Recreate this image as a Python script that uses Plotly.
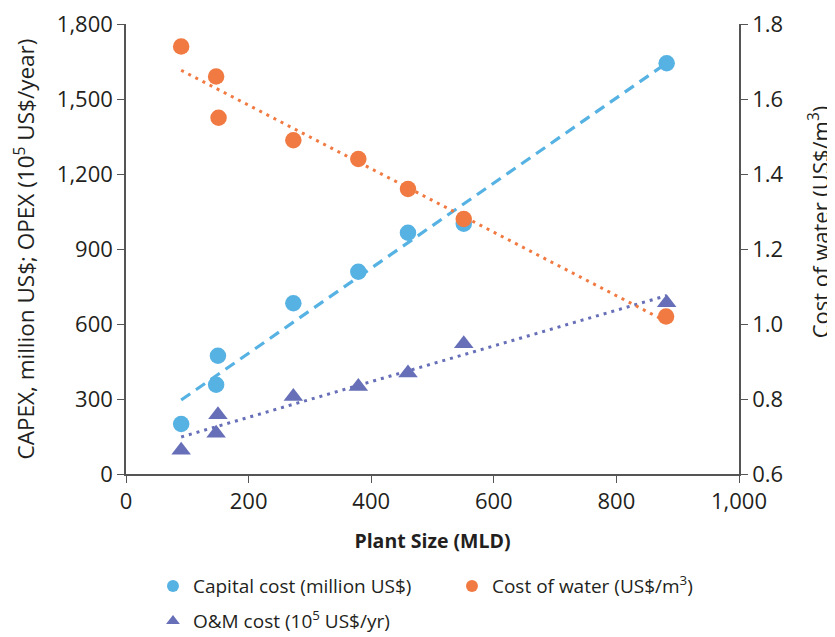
import numpy as np
import plotly.graph_objects as go

# Data
cap_x = [90, 147, 150, 273, 379, 460, 551, 882]
cap_y = [200, 357, 473, 683, 809, 965, 1001, 1643]
water_x = [90, 147, 151, 273, 379, 460, 551, 881]
water_y = [1.74, 1.66, 1.55, 1.49, 1.44, 1.36, 1.28, 1.02]
om_x = [90, 147, 150, 273, 379, 460, 551, 882]
om_y = [95, 163, 237, 310, 350, 404, 521, 685]

x_ticks = [0, 200, 400, 600, 800, 1000]
y_ticks = [0, 300, 600, 900, 1200, 1500, 1800]
y2_ticks = [0.6, 0.8, 1.0, 1.2, 1.4, 1.6, 1.8]

BLUE = "#56B2E3"
ORANGE = "#F07A41"
PURPLE = "#666FB7"
TXT = "#231F20"
FONT = "Open Sans"

def trend(xs, ys):
    m, b = np.polyfit(xs, ys, 1)
    xe = np.array([min(xs), max(xs)])
    return xe, m * xe + b

fig = go.Figure()

tx, ty = trend(cap_x, cap_y)
fig.add_trace(go.Scatter(x=tx, y=ty, mode="lines", showlegend=False, hoverinfo="skip",
                         line=dict(color=BLUE, width=3.2, dash="11px,7px")))
tx, ty = trend(om_x, om_y)
fig.add_trace(go.Scatter(x=tx, y=ty, mode="lines", showlegend=False, hoverinfo="skip",
                         line=dict(color=PURPLE, width=3, dash="3px,5px")))
tx, ty = trend(water_x, water_y)
fig.add_trace(go.Scatter(x=tx, y=ty, mode="lines", showlegend=False, hoverinfo="skip", yaxis="y2",
                         line=dict(color=ORANGE, width=3, dash="3px,5px")))

fig.add_trace(go.Scatter(x=cap_x, y=cap_y, mode="markers", name="Capital cost (million US$)",
                         legend="legend", marker=dict(color=BLUE, size=16.5, symbol="circle")))
fig.add_trace(go.Scatter(x=water_x, y=water_y, mode="markers", name="Cost of water (US$/m<sup>3</sup>)",
                         legend="legend", yaxis="y2", marker=dict(color=ORANGE, size=16.5, symbol="circle")))
fig.add_trace(go.Scatter(x=om_x, y=om_y, mode="markers", name="O&M cost (10<sup>5</sup> US$/yr)",
                         legend="legend2", marker=dict(color=PURPLE, size=17, symbol="triangle-up")))

axis_common = dict(showgrid=False, zeroline=False, showline=True, linecolor="#555555", linewidth=1.5,
                   ticks="outside", ticklen=7, tickcolor="#555555", tickwidth=1.2, automargin=False,
                   ticklabeloverflow="allow",
                   tickfont=dict(family=FONT, size=22, color=TXT))

legend_common = dict(orientation="h", xanchor="left", yanchor="middle", x=0.044,
                     font=dict(family=FONT, size=19, color=TXT), itemsizing="constant",
                     bgcolor="rgba(0,0,0,0)")

fig.update_layout(
    width=835, height=637,
    margin=dict(l=118, r=104, t=16, b=171, autoexpand=False),
    paper_bgcolor="white", plot_bgcolor="white",
    font=dict(family=FONT, color=TXT),
    xaxis=dict(range=[0, 1000], tickvals=x_ticks, ticktext=[f"{v:,}" for v in x_ticks],
               title=dict(text="<b>Plant Size (MLD)</b>", font=dict(family=FONT, size=19.5, color=TXT), standoff=20),
               **axis_common),
    yaxis=dict(range=[0, 1800], tickvals=y_ticks, ticktext=[f"{v:,}" for v in y_ticks],
               title=dict(text="CAPEX, million US$; OPEX (10<sup>5</sup> US$/year)",
                          font=dict(family=FONT, size=22.5, color=TXT), standoff=28),
               **axis_common),
    yaxis2=dict(range=[0.6, 1.8], tickvals=y2_ticks, ticktext=[f"{v:.1f}" for v in y2_ticks],
                overlaying="y", side="right", **axis_common),
    legend=dict(y=-0.249, entrywidth=254, **legend_common),
    legend2=dict(y=-0.327, **legend_common),
    annotations=[dict(text="Cost of water (US$/m<sup>3</sup>)", xref="paper", yref="paper",
                      x=1.131, y=0.56, xanchor="center", yanchor="middle", textangle=-90,
                      showarrow=False, font=dict(family=FONT, size=22, color=TXT))],
)

fig.write_html("out.html")
